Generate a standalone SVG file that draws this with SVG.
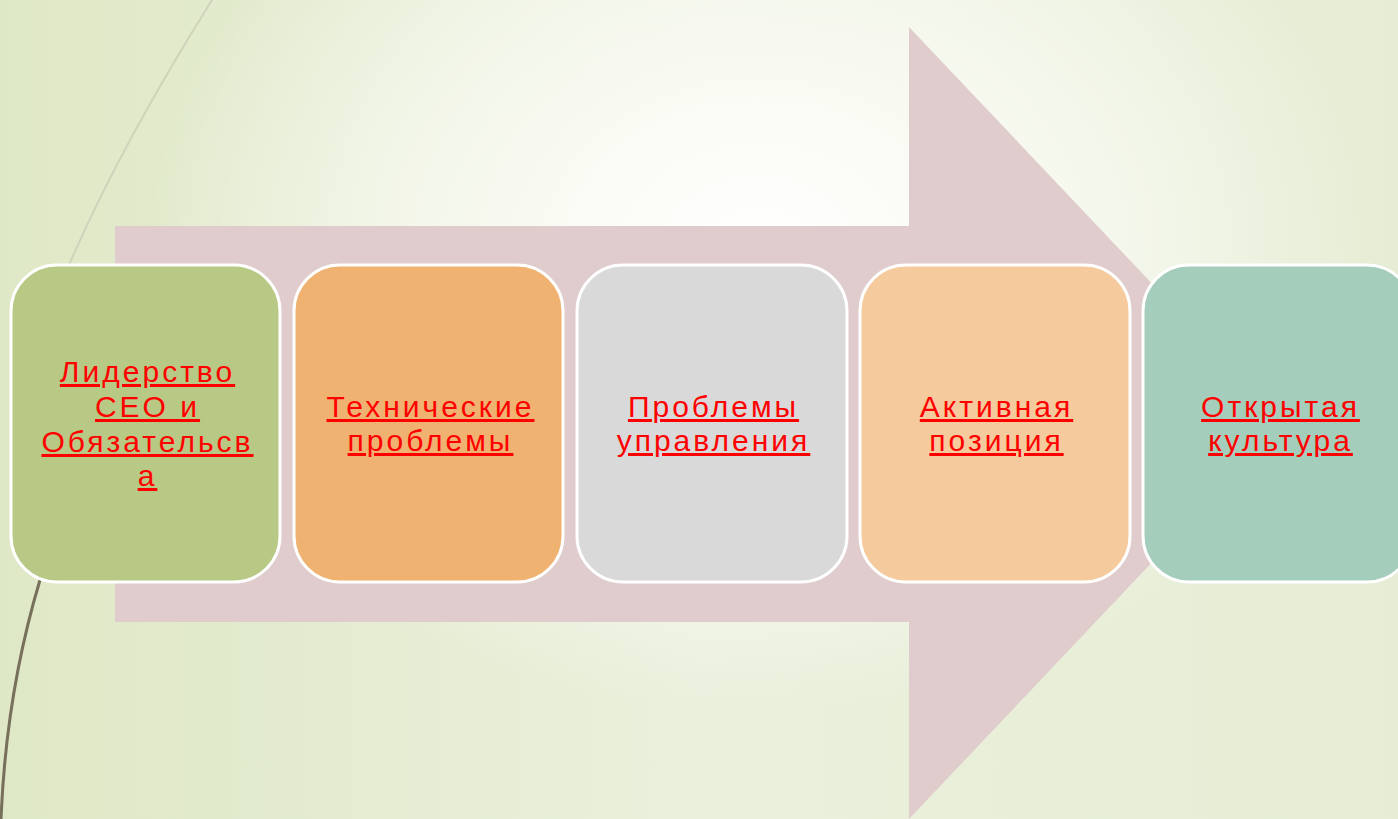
<svg xmlns="http://www.w3.org/2000/svg" width="1398" height="819" viewBox="0 0 1398 819">
<defs>
<linearGradient id="bgL" x1="0" y1="0" x2="1" y2="0">
<stop offset="0" stop-color="#dfe8c6"/>
<stop offset="0.5" stop-color="#eaf0dc"/>
<stop offset="1" stop-color="#e6edd4"/>
</linearGradient>
<radialGradient id="glow" cx="760" cy="250" r="620" gradientUnits="userSpaceOnUse" gradientTransform="translate(760 250) scale(1 0.75) translate(-760 -250)">
<stop offset="0" stop-color="#ffffff" stop-opacity="1"/>
<stop offset="0.35" stop-color="#fbfcf6" stop-opacity="0.9"/>
<stop offset="1" stop-color="#ffffff" stop-opacity="0"/>
</radialGradient>
<style>
.box{stroke:#ffffff;stroke-width:3}
.lbl{font-family:"Liberation Sans",Arial,sans-serif;font-size:30px;fill:#ff0000;text-anchor:middle;text-decoration:underline;text-decoration-thickness:3px;letter-spacing:3px}
</style>
</defs>
<rect width="1398" height="819" fill="url(#bgL)"/>
<rect width="1398" height="819" fill="url(#glow)"/>
<path d="M212,0 C165,75 110,170 69,265" fill="none" stroke="#cdd4bb" stroke-width="2"/>
<path d="M40,580 C22,640 5,720 1,819" fill="none" stroke="#77705a" stroke-width="3"/>
<g id="arrow">
<polygon points="115,226 909,226 909,27 1284,423 909,819 909,622 115,622" fill="#e0cccc"/>
</g>
<g id="connectors"/>
<g id="n1"><rect class="box" x="11" y="265" width="269" height="317" rx="46" fill="#b8c985"/>
<text class="lbl" x="147.5" y="382">Лидерство</text>
<text class="lbl" x="147.5" y="417">СЕО и</text>
<text class="lbl" x="147.5" y="452">Обязательсв</text>
<text class="lbl" x="147.5" y="486">а</text></g>
<g id="n2"><rect class="box" x="294" y="265" width="269" height="317" rx="46" fill="#efb271"/>
<text class="lbl" x="430.5" y="417">Технические</text>
<text class="lbl" x="430.5" y="451">проблемы</text></g>
<g id="n3"><rect class="box" x="577" y="265" width="270" height="317" rx="46" fill="#d9d9d9"/>
<text class="lbl" x="713.5" y="417">Проблемы</text>
<text class="lbl" x="713.5" y="451">управления</text></g>
<g id="n4"><rect class="box" x="860" y="265" width="270" height="317" rx="46" fill="#f5ca9c"/>
<text class="lbl" x="996.5" y="417">Активная</text>
<text class="lbl" x="996.5" y="451">позиция</text></g>
<g id="n5"><rect class="box" x="1143" y="265" width="270" height="317" rx="46" fill="#a5cdbb"/>
<text class="lbl" x="1280.5" y="417">Открытая</text>
<text class="lbl" x="1280.5" y="451">культура</text></g>
</svg>
